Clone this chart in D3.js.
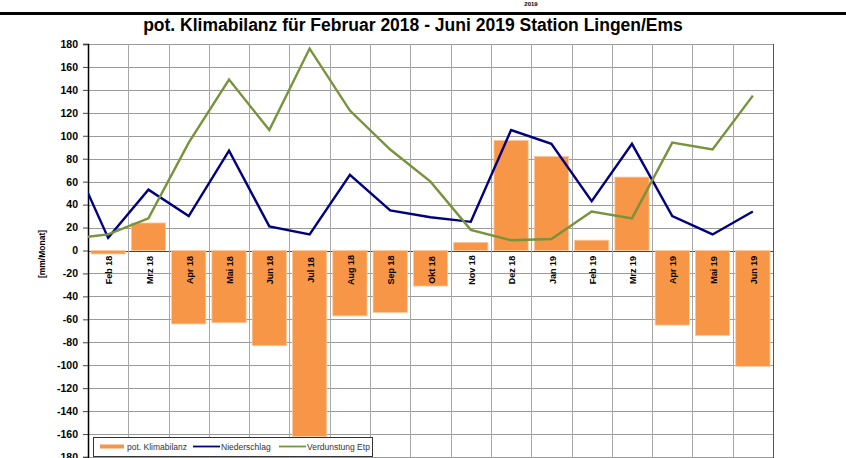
<!DOCTYPE html>
<html>
<head>
<meta charset="utf-8">
<script src="https://cdn.jsdelivr.net/npm/d3@7"></script>
<style>
  body { margin: 0; background: #fff; }
  svg { display: block; font-family: Arial, 'Liberation Sans', sans-serif; }
</style>
</head>
<body>
<div class="canvas"></div>
<script>
// data
const months = ['Feb 18', 'Mrz 18', 'Apr 18', 'Mai 18', 'Jun 18', 'Jul 18', 'Aug 18', 'Sep 18', 'Okt 18',
  'Nov 18', 'Dez 18', 'Jan 19', 'Feb 19', 'Mrz 19', 'Apr 19', 'Mai 19', 'Jun 19']
const klimabilanz = [-3, 24, -64, -63, -83, -162, -57, -54, -31, 7, 96, 82, 9, 64, -65, -74, -101]
const niederschlag = [11, 53, 30, 87, 21, 14, 66, 35, 29, 25, 105, 93, 43, 93, 30, 14, 34]
const verdunstung = [14, 28, 94, 149, 105, 176, 122, 88, 60, 18, 9, 10, 34, 28, 94, 88, 135]
// Jan 18 values, only the piece inside the plot is visible
const niederschlagJan18 = 89
const verdunstungJan18 = 10
const yTicks = d3.range(-180, 181, 20)
const legendItems = ['pot. Klimabilanz', 'Niederschlag', 'Verdunstung Etp']

const colors = { bar: '#f79646', rain: '#000080', etp: '#77933c' }

const dims = { width: 846, height: 458 }
const plot = { left: 88, right: 773, top: 44, bottom: 457 }

const svg = d3.select('.canvas')
  .append('svg')
  .attr('width', dims.width)
  .attr('height', dims.height)

// top rule + small header text
svg.append('rect')
  .attr('x', 0).attr('y', 12)
  .attr('width', dims.width).attr('height', 3)
  .attr('fill', '#000')
svg.append('text')
  .attr('x', 531).attr('y', 6)
  .attr('text-anchor', 'middle')
  .attr('font-size', 6).attr('font-weight', 'bold')
  .text('2019')

svg.append('text')
  .attr('x', 413).attr('y', 31)
  .attr('text-anchor', 'middle')
  .attr('font-size', 17.5).attr('font-weight', 'bold')
  .text('pot. Klimabilanz für Februar 2018 - Juni 2019 Station Lingen/Ems')

const x = d3.scaleBand()
  .domain(months)
  .range([plot.left, plot.right])
  .paddingInner(0.15)
  .paddingOuter(0.075)

const y = d3.scaleLinear()
  .domain([-180, 180])
  .range([plot.bottom, plot.top])

const step = x.step()
const cx = m => x(m) + x.bandwidth() / 2

// grid
const grid = svg.append('g')
grid.selectAll('line.h')
  .data(yTicks)
  .enter().append('line')
    .attr('class', 'h')
    .attr('x1', plot.left).attr('x2', plot.right)
    .attr('y1', d => Math.round(y(d)) + 0.5).attr('y2', d => Math.round(y(d)) + 0.5)
    .attr('stroke', d => d === 0 ? '#444' : '#9a9a9a')
grid.selectAll('line.v')
  .data(months.slice(1))
  .enter().append('line')
    .attr('class', 'v')
    .attr('x1', d => Math.round(x(d) - x.step() * x.paddingInner() / 2) + 0.5)
    .attr('x2', d => Math.round(x(d) - x.step() * x.paddingInner() / 2) + 0.5)
    .attr('y1', plot.top).attr('y2', dims.height)
    .attr('stroke', '#a8a8a8')
grid.append('line')
  .attr('x1', plot.right + 0.5).attr('x2', plot.right + 0.5)
  .attr('y1', plot.top).attr('y2', dims.height)
  .attr('stroke', '#555')

// bars
svg.append('g')
  .selectAll('rect')
  .data(klimabilanz)
  .enter().append('rect')
    .attr('x', (d, i) => x(months[i]))
    .attr('width', x.bandwidth())
    .attr('y', d => y(Math.max(0, d)))
    .attr('height', d => Math.abs(y(d) - y(0)))
    .attr('fill', colors.bar)
    .attr('stroke', '#fbc99d')
    .attr('stroke-width', 0.8)

// y axis
const yAxis = d3.axisLeft(y)
  .tickValues(yTicks)
  .tickSize(5)
  .tickFormat(d => String(d))
const yg = svg.append('g')
  .attr('transform', `translate(${plot.left}, 0)`)
  .call(yAxis)
yg.select('.domain').attr('stroke', '#000').attr('stroke-width', 1.5)
yg.selectAll('.tick line').attr('stroke', '#444')
yg.selectAll('.tick text')
  .attr('x', -10)
  .attr('font-size', 10.5).attr('font-weight', 'bold')
  .attr('font-family', 'Arial, Liberation Sans, sans-serif')
  .attr('fill', '#000')

svg.append('text')
  .attr('transform', 'translate(45, 254) rotate(-90)')
  .attr('text-anchor', 'middle')
  .attr('font-size', 8.5).attr('font-weight', 'bold')
  .text('[mm/Monat]')

// month labels
svg.append('g')
  .selectAll('text')
  .data(months)
  .enter().append('text')
    .attr('transform', d => `translate(${cx(d) + 1}, 270) rotate(-90)`)
    .attr('text-anchor', 'middle')
    .attr('dy', '0.35em')
    .attr('font-size', 9).attr('font-weight', 'bold')
    .text(d => d)

// lines, clipped to the plot
svg.append('clipPath').attr('id', 'plotClip')
  .append('rect')
    .attr('x', plot.left).attr('y', 0)
    .attr('width', plot.right - plot.left).attr('height', dims.height)

const line = d3.line()
  .x(d => d.x)
  .y(d => y(d.v))

const toPoints = (first, values) =>
  [{ x: cx(months[0]) - step, v: first }].concat(values.map((v, i) => ({ x: cx(months[i]), v })))

const lines = svg.append('g').attr('clip-path', 'url(#plotClip)')
lines.append('path')
  .attr('d', line(toPoints(niederschlagJan18, niederschlag)))
  .attr('fill', 'none')
  .attr('stroke', colors.rain)
  .attr('stroke-width', 2.4)
lines.append('path')
  .attr('d', line(toPoints(verdunstungJan18, verdunstung)))
  .attr('fill', 'none')
  .attr('stroke', colors.etp)
  .attr('stroke-width', 2.4)

// legend
const legend = svg.append('g')
legend.append('rect')
  .attr('x', 93.5).attr('y', 437.5)
  .attr('width', 279).attr('height', 19)
  .attr('fill', '#fff')
  .attr('stroke', '#333')
const legendX = [100, 193, 279]
const legendColors = [colors.bar, colors.rain, colors.etp]
legendItems.forEach((name, i) => {
  legend.append('line')
    .attr('x1', legendX[i]).attr('x2', legendX[i] + (i === 0 ? 24 : 27))
    .attr('y1', 446.5).attr('y2', 446.5)
    .attr('stroke', legendColors[i])
    .attr('stroke-width', i === 0 ? 4 : 1.8)
  legend.append('text')
    .attr('x', legendX[i] + (i === 0 ? 27 : 28))
    .attr('y', 449.5)
    .attr('font-size', 8.5)
    .attr('fill', '#333')
    .text(name)
})
</script>
</body>
</html>
